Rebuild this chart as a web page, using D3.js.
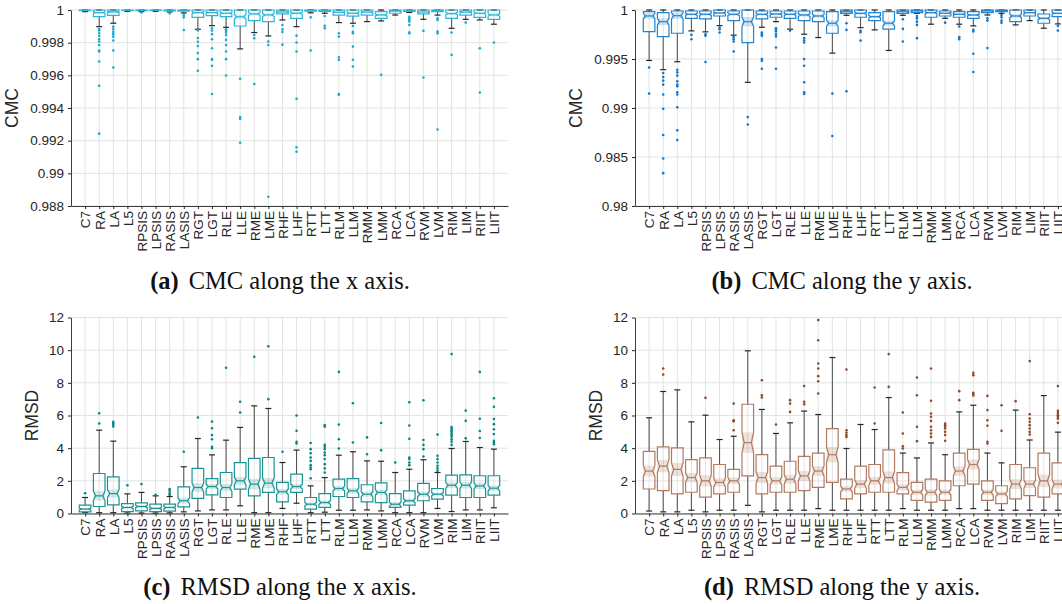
<!DOCTYPE html>
<html>
<head>
<meta charset="utf-8">
<script src="https://cdn.jsdelivr.net/npm/d3@7"></script>
<style>
  body { margin: 0; background: #fff; }
  svg { display: block; }
  .axis text { font-family: "Liberation Sans", Arial, sans-serif; font-size: 13.5px; fill: #262626; }
  .axis path, .axis line { stroke: #262626; }
  .ylabel { font-family: "Liberation Sans", Arial, sans-serif; font-size: 17.5px; fill: #262626; }
  .title { font-family: "Liberation Serif", "Times New Roman", serif; font-size: 24.5px; fill: #111; }
</style>
</head>
<body>
<svg id="chart" width="1062" height="604"></svg>
<script>
// markers, in plotting order
const categories = ['C7', 'RA', 'LA', 'L5', 'RPSIS', 'LPSIS', 'RASIS', 'LASIS', 'RGT', 'LGT',
  'RLE', 'LLE', 'RME', 'LME', 'RHF', 'LHF', 'RTT', 'LTT', 'RLM', 'LLM',
  'RMM', 'LMM', 'RCA', 'LCA', 'RVM', 'LVM', 'RIM', 'LIM', 'RIIT', 'LIIT']

// samples per box, only used for the notch width
const sampleCount = 120

// each row: [lower whisker, q1, median, q3, upper whisker]
const cmcXBoxes = [
  [0.99990, 0.99996, 0.99999, 1, 1], [0.99898, 0.99959, 0.99984, 1, 1], [0.99919, 0.99967, 0.99988, 1, 1],
  [0.99992, 0.99997, 0.99999, 1, 1], [0.99990, 0.99996, 0.99999, 1, 1], [0.99992, 0.99997, 0.99999, 1, 1],
  [0.99988, 0.99995, 0.99998, 1, 1], [0.99982, 0.99993, 0.99998, 1, 1], [0.99882, 0.99955, 0.99984, 1, 1],
  [0.99904, 0.99965, 0.99984, 1, 1], [0.99894, 0.99959, 0.99980, 1, 1], [0.99762, 0.99902, 0.99959, 1, 1],
  [0.99862, 0.99935, 0.99976, 1, 1], [0.99841, 0.99929, 0.99970, 1, 1], [0.99939, 0.99976, 0.99988, 1, 1],
  [0.99898, 0.99949, 0.99980, 1, 1], [0.99983, 0.99993, 0.99998, 1, 1], [0.99980, 0.99992, 0.99998, 1, 1],
  [0.99923, 0.99969, 0.99986, 1, 1], [0.99919, 0.99963, 0.99980, 1, 1], [0.99929, 0.99969, 0.99987, 1, 1],
  [0.99933, 0.99949, 0.99970, 0.99990, 1], [0.99969, 0.99980, 0.99993, 1, 1], [0.99985, 0.99992, 0.99998, 1, 1],
  [0.99943, 0.99976, 0.99988, 1, 1], [0.99969, 0.99990, 0.99997, 1, 1], [0.99888, 0.99949, 0.99978, 1, 1],
  [0.99943, 0.99969, 0.99987, 1, 1], [0.99939, 0.99955, 0.99980, 1, 1], [0.99913, 0.99943, 0.99970, 1, 1],
]
const cmcXOutliers = [
  [], [0.99884, 0.99875, 0.99858, 0.99841, 0.99821, 0.99807, 0.99786, 0.99752, 0.99746, 0.99685, 0.99536, 0.99243],
  [0.99898, 0.99882, 0.99866, 0.99852, 0.99837, 0.99813, 0.99752, 0.99648], [], [0.99985], [], [0.99980],
  [0.99970, 0.99955, 0.99878], [0.99875, 0.99829, 0.99805, 0.99780, 0.99736, 0.99699, 0.99628],
  [0.99888, 0.99874, 0.99852, 0.99821, 0.99766, 0.99699, 0.99695, 0.99658, 0.99486],
  [0.99882, 0.99872, 0.99862, 0.99847, 0.99817, 0.99786, 0.99746, 0.99699, 0.99599],
  [0.99579, 0.99345, 0.99333, 0.99187], [0.99847, 0.99827, 0.99547], [0.99807, 0.99786, 0.98857],
  [0.99908, 0.99882, 0.99866, 0.99788], [0.99843, 0.99801, 0.99746, 0.99457, 0.99160, 0.99132],
  [0.99955, 0.99752], [0.99963, 0.99904, 0.99888], [0.99858, 0.99837, 0.99711, 0.99695, 0.99486, 0.99481],
  [0.99902, 0.99866, 0.99858, 0.99776, 0.99695, 0.99654], [], [0.99603], [],
  [0.99959, 0.99949, 0.99939, 0.99929, 0.99908, 0.99864, 0.99858], [0.99872, 0.99587],
  [0.99949, 0.99939, 0.99868, 0.99858, 0.99268], [0.99862, 0.99725], [0.99923], [0.99766, 0.99495], [0.99801],
]

const cmcYBoxes = [
  [0.99485, 0.99780, 0.99939, 0.99983, 1], [0.99391, 0.99729, 0.99881, 0.99973, 1], [0.99472, 0.99763, 0.99942, 0.99990, 1],
  [0.99787, 0.99915, 0.99956, 0.99990, 1], [0.99777, 0.99909, 0.99956, 0.99990, 1], [0.99841, 0.99939, 0.99970, 1, 1],
  [0.99743, 0.99892, 0.99956, 0.99990, 1], [0.99262, 0.99668, 0.99881, 1, 1], [0.99824, 0.99909, 0.99956, 0.99990, 1],
  [0.99881, 0.99926, 0.99959, 0.99990, 1], [0.99804, 0.99915, 0.99956, 0.99990, 1], [0.99753, 0.99892, 0.99949, 0.99990, 1],
  [0.99719, 0.99881, 0.99939, 0.99990, 1], [0.99560, 0.99763, 0.99865, 0.99983, 1], [0.99946, 0.99966, 0.99983, 1, 1],
  [0.99820, 0.99926, 0.99966, 1, 1], [0.99797, 0.99892, 0.99932, 0.99973, 1], [0.99587, 0.99804, 0.99865, 0.99983, 1],
  [0.99946, 0.99966, 0.99983, 1, 1], [0.99966, 0.99973, 0.99990, 1, 1], [0.99855, 0.99926, 0.99973, 1, 1],
  [0.99915, 0.99939, 0.99966, 0.99990, 1], [0.99855, 0.99926, 0.99956, 0.99983, 1], [0.99838, 0.99915, 0.99949, 0.99983, 1],
  [0.99949, 0.99973, 0.99990, 1, 1], [0.99966, 0.99983, 0.99993, 1, 1], [0.99848, 0.99881, 0.99939, 1, 1],
  [0.99892, 0.99939, 0.99973, 1, 1], [0.99814, 0.99865, 0.99915, 0.99959, 1], [0.99858, 0.99932, 0.99966, 1, 1],
]
const cmcYOutliers = [
  [0.99414, 0.99147], [0.99357, 0.99317, 0.99279, 0.99239, 0.99137, 0.98992, 0.98724, 0.98484, 0.98335],
  [0.99391, 0.99364, 0.99330, 0.99272, 0.99239, 0.99222, 0.99161, 0.99137, 0.99008, 0.98772, 0.98673],
  [0.99746, 0.99702], [0.99753, 0.99736, 0.99469], [0.99820, 0.99804, 0.99770],
  [0.99723, 0.99702, 0.99678, 0.99577], [0.98907, 0.98832], [0.99770, 0.99753, 0.99736, 0.99499, 0.99482, 0.99401],
  [0.99814, 0.99797, 0.99780, 0.99753, 0.99729, 0.99617, 0.99401], [0.99790],
  [0.99713, 0.99688, 0.99668, 0.99499, 0.99431, 0.99262, 0.99161, 0.99144], [], [0.99147, 0.98714],
  [0.99865, 0.99797, 0.99171], [0.99787, 0.99773, 0.99688], [], [], [0.99905, 0.99807, 0.99678],
  [0.99939, 0.99915, 0.99881, 0.99848, 0.99713], [], [0.99871], [0.99831, 0.99723, 0.99702],
  [0.99797, 0.99780, 0.99553, 0.99367], [0.99915, 0.99892, 0.99611], [0.99949, 0.99926, 0.99892, 0.99871],
  [], [], [], [0.99838, 0.99790],
]

const rmsdXBoxes = [
  [0.06, 0.10, 0.27, 0.51, 0.98], [0.05, 0.43, 1.08, 2.45, 5.10], [0.05, 0.53, 1.22, 2.24, 4.43],
  [0.03, 0.12, 0.37, 0.61, 1.20], [0.03, 0.16, 0.43, 0.65, 1.29], [0.03, 0.12, 0.31, 0.57, 1.08],
  [0.04, 0.14, 0.37, 0.57, 1.04], [0.10, 0.41, 0.78, 1.63, 2.86], [0.16, 0.92, 1.59, 2.76, 4.59],
  [0.22, 1.14, 1.65, 2.14, 3.59], [0.22, 0.98, 1.59, 2.51, 4.49], [0.47, 1.49, 2.00, 3.12, 5.27],
  [0.05, 1.08, 1.80, 3.37, 6.59], [0.05, 1.29, 1.86, 3.43, 6.43], [0.31, 0.71, 1.33, 1.90, 3.12],
  [0.63, 1.29, 1.65, 2.41, 3.88], [0.05, 0.27, 0.57, 0.98, 1.69], [0.08, 0.37, 0.67, 1.22, 2.20],
  [0.20, 1.04, 1.53, 2.10, 3.57], [0.20, 0.98, 1.39, 2.14, 3.78], [0.22, 0.71, 1.18, 1.76, 3.22],
  [0.16, 0.67, 1.29, 1.88, 3.20], [0.05, 0.37, 0.57, 1.22, 2.51], [0.05, 0.51, 0.78, 1.39, 2.71],
  [0.05, 0.78, 1.18, 1.84, 3.29], [0.31, 0.88, 1.18, 1.53, 2.51], [0.12, 1.12, 1.73, 2.35, 3.98],
  [0.22, 0.98, 1.73, 2.37, 4.41], [0.22, 0.98, 1.69, 2.31, 4.04], [0.35, 1.12, 1.55, 2.31, 3.94],
]
const rmsdXOutliers = [
  [1.24], [5.51, 6.14], [5.33, 5.43, 5.53, 5.61], [1.73], [1.80], [1.14], [1.14, 1.24, 1.37, 1.49], [3.78],
  [5.88], [4.00, 4.08, 4.55, 4.80, 5.22, 5.63], [8.92], [6.18, 6.84], [9.59], [7.00, 10.24], [3.78],
  [4.29, 4.39, 5.06, 6.00], [2.16, 2.71, 2.82, 2.96, 3.22, 3.43, 3.69, 3.94, 4.32],
  [2.51, 2.76, 3.02, 3.33, 3.57, 3.73, 3.94, 4.08, 4.20, 5.31, 5.41], [3.98, 4.55, 5.45, 8.67],
  [4.35, 6.75], [3.63, 4.66], [3.88, 5.54], [3.12], [2.96, 3.12, 3.33, 3.43, 4.57, 5.39, 6.81],
  [3.49, 3.94, 4.20, 4.50, 6.93], [2.61, 2.76, 2.92, 3.12, 3.33, 3.53, 4.83],
  [4.20, 4.40, 4.55, 4.70, 4.80, 4.90, 5.00, 5.10, 5.20, 5.30, 9.76], [4.60, 5.67, 6.30],
  [4.62, 5.05, 5.80, 8.67], [4.24, 4.35, 4.45, 4.86, 5.16, 5.47, 5.78, 6.53, 7.06],
]

const rmsdYBoxes = [
  [0.15, 1.5, 2.6, 3.8, 5.86], [0.1, 1.4, 2.9, 4.08, 7.47], [0.1, 1.2, 2.7, 4.02, 7.57],
  [0.2, 1.3, 2.2, 3.3, 5.61], [0.1, 1.0, 2.0, 3.4, 6.02], [0.2, 1.2, 1.9, 3.0, 4.53],
  [0.2, 1.3, 2.0, 2.7, 4.73], [0.5, 2.3, 4.34, 6.69, 9.96], [0.1, 1.2, 2.2, 3.6, 6.37],
  [0.2, 1.3, 2.0, 2.9, 4.9], [0.2, 1.3, 2.1, 3.2, 5.55], [0.2, 1.4, 2.3, 3.5, 6.27],
  [0.3, 1.6, 2.6, 3.7, 6.06], [0.2, 1.9, 3.6, 5.2, 9.55], [0.2, 0.9, 1.5, 2.1, 3.98],
  [0.2, 1.2, 1.8, 2.9, 5.45], [0.2, 1.3, 2.0, 3.0, 5.14], [0.2, 1.3, 2.2, 3.9, 7.1],
  [0.3, 1.2, 1.6, 2.5, 3.7], [0.2, 0.8, 1.3, 1.9, 3.4], [0.2, 0.7, 1.3, 2.1, 4.32],
  [0.2, 0.8, 1.3, 2.0, 3.6], [0.3, 1.7, 2.6, 3.7, 6.22], [0.3, 1.8, 3.0, 3.92, 6.63],
  [0.2, 0.8, 1.3, 2.0, 3.7], [0.2, 0.6, 1.2, 1.7, 3.1], [0.2, 0.9, 1.8, 3.0, 6.33],
  [0.2, 1.1, 1.8, 2.8, 4.5], [0.2, 1.0, 2.0, 3.7, 7.22], [0.2, 1.2, 1.8, 3.1, 4.98],
]
const rmsdYOutliers = [
  [], [8.51, 8.88], [], [], [7.08], [], [5.1, 5.65, 5.71, 6.73], [], [7.1, 7.24, 8.16], [5.45],
  [6.22, 6.73, 6.94], [6.69, 6.84, 7.8], [7.35, 8.1, 8.41, 8.88, 9.18, 10.61, 11.84], [],
  [4.69, 4.8, 4.94, 5.1, 8.82], [], [5.51, 7.71], [7.75, 9.76], [3.98, 4.12, 4.9, 6.18],
  [4.43, 5.31, 7.24, 8.33], [4.69, 4.9, 5.1, 5.31, 5.67, 5.92, 6.12, 6.9, 8.88],
  [4.45, 4.8, 5.0, 5.2, 5.31, 5.41, 5.51], [6.94, 7.49], [7.22, 7.31, 7.39, 8.47, 8.61],
  [4.29, 4.39, 5.37, 5.71, 6.33, 7.2], [5.06, 6.63], [6.88], [4.84, 5.0, 5.2, 5.41, 5.61, 5.81, 6.08, 9.33],
  [], [5.55, 5.81, 5.92, 6.02, 6.16, 6.29, 7.8],
]

const cmcXTicks = [0.988, 0.99, 0.992, 0.994, 0.996, 0.998, 1]
const cmcXTickLabels = ['0.988', '0.99', '0.992', '0.994', '0.996', '0.998', '1']
const cmcYTicks = [0.98, 0.985, 0.99, 0.995, 1]
const cmcYTickLabels = ['0.98', '0.985', '0.99', '0.995', '1']
const rmsdTicks = [0, 2, 4, 6, 8, 10, 12]
const rmsdTickLabels = ['0', '2', '4', '6', '8', '10', '12']

const svg = d3.select('#chart')
const plotW = 437
const plotH = 196

/**
 * one notched box plot panel with its grid, axes and caption
 */
function drawPanel (p) {
  const g = svg.append('g').attr('transform', `translate(${p.left},${p.top})`)
  const x = d3.scaleLinear().domain([0, categories.length + 1]).range([0, plotW])
  const y = d3.scaleLinear().domain(d3.extent(p.ticks)).range([plotH, 0])

  // grid
  g.append('g').selectAll('line').data(p.ticks).join('line')
    .attr('x1', 0).attr('x2', plotW)
    .attr('y1', d => y(d)).attr('y2', d => y(d))
    .attr('stroke', '#e3e3e3')
  g.append('g').selectAll('line').data(categories).join('line')
    .attr('x1', (d, i) => x(i + 1)).attr('x2', (d, i) => x(i + 1))
    .attr('y1', 0).attr('y2', plotH)
    .attr('stroke', '#e3e3e3')

  // axes
  g.append('g').attr('class', 'axis')
    .call(d3.axisLeft(y).tickValues(p.ticks).tickFormat((d, i) => p.tickLabels[i])
      .tickSize(3).tickSizeOuter(0).tickPadding(4))
  const xAxis = g.append('g').attr('class', 'axis')
    .attr('transform', `translate(0,${plotH})`)
    .call(d3.axisBottom(x).tickValues(d3.range(1, categories.length + 1))
      .tickFormat(i => categories[i - 1]).tickSize(3).tickSizeOuter(0))
  xAxis.selectAll('text')
    .attr('transform', 'rotate(-90)')
    .attr('x', -5).attr('y', 0).attr('dy', '0.36em')
    .style('text-anchor', 'end')
  g.selectAll('.axis .domain').attr('stroke-width', 0.9)

  g.append('text').attr('class', 'ylabel')
    .attr('transform', `translate(${p.labelX},${plotH / 2}) rotate(-90)`)
    .attr('text-anchor', 'middle')
    .text(p.label)

  const halfW = 5.8
  const pinch = 3.6
  const boxes = g.append('g').selectAll('g').data(p.boxes).join('g')
    .attr('transform', (d, i) => `translate(${x(i + 1)},0)`)

  // whiskers
  boxes.append('line')
    .attr('y1', d => y(d[3])).attr('y2', d => y(d[4]))
    .attr('stroke', '#4a4a4a').attr('stroke-width', 1)
  boxes.append('line')
    .attr('y1', d => y(d[1])).attr('y2', d => y(d[0]))
    .attr('stroke', '#4a4a4a').attr('stroke-width', 1)
  boxes.selectAll('.cap').data(d => [d[0], d[4]]).join('line')
    .attr('class', 'cap')
    .attr('x1', -3).attr('x2', 3)
    .attr('y1', v => y(v)).attr('y2', v => y(v))
    .attr('stroke', '#262626').attr('stroke-width', 1.2)

  const notch = d => {
    const half = 1.57 * (d[3] - d[1]) / Math.sqrt(sampleCount)
    return [Math.max(d[1], d[2] - half), Math.min(d[3], d[2] + half)]
  }

  // shaded notch band
  boxes.append('rect')
    .attr('x', -halfW)
    .attr('width', halfW * 2)
    .attr('y', d => y(notch(d)[1]))
    .attr('height', d => y(notch(d)[0]) - y(notch(d)[1]))
    .attr('fill', p.fill)

  // notched outline
  boxes.append('path')
    .attr('d', d => {
      const [lo, hi] = notch(d)
      const pts = [
        [-halfW, y(d[3])], [halfW, y(d[3])], [halfW, y(hi)], [pinch, y(d[2])],
        [halfW, y(lo)], [halfW, y(d[1])], [-halfW, y(d[1])], [-halfW, y(lo)],
        [-pinch, y(d[2])], [-halfW, y(hi)],
      ]
      return d3.line()(pts) + 'Z'
    })
    .attr('fill', 'none')
    .attr('stroke', p.stroke).attr('stroke-width', 1.2)
  boxes.append('line')
    .attr('x1', -pinch).attr('x2', pinch)
    .attr('y1', d => y(d[2])).attr('y2', d => y(d[2]))
    .attr('stroke', p.stroke).attr('stroke-width', 1.2)

  // outliers
  g.append('g').selectAll('g').data(p.outliers).join('g')
    .attr('transform', (d, i) => `translate(${x(i + 1)},0)`)
    .selectAll('circle').data(d => d).join('circle')
    .attr('cy', v => y(v)).attr('r', 1.3)
    .attr('fill', p.dot)

  const title = svg.append('text').attr('class', 'title')
    .attr('x', p.titleX).attr('y', p.titleY)
    .attr('text-anchor', 'middle')
  title.append('tspan').attr('font-weight', 'bold').text(p.tag)
  title.append('tspan').attr('dx', 10).text(p.caption)
}

drawPanel({
  left: 71, top: 10, boxes: cmcXBoxes, outliers: cmcXOutliers,
  ticks: cmcXTicks, tickLabels: cmcXTickLabels, label: 'CMC', labelX: -53,
  stroke: '#2bb6d9', fill: 'rgba(43,182,217,0.22)', dot: '#1aa9d2',
  tag: '(a)', caption: 'CMC along the x axis.', titleX: 280, titleY: 289,
})
drawPanel({
  left: 635, top: 10, boxes: cmcYBoxes, outliers: cmcYOutliers,
  ticks: cmcYTicks, tickLabels: cmcYTickLabels, label: 'CMC', labelX: -53,
  stroke: '#1f84d2', fill: 'rgba(31,132,210,0.22)', dot: '#1677c8',
  tag: '(b)', caption: 'CMC along the y axis.', titleX: 842, titleY: 289,
})
drawPanel({
  left: 71, top: 317.5, boxes: rmsdXBoxes, outliers: rmsdXOutliers,
  ticks: rmsdTicks, tickLabels: rmsdTickLabels, label: 'RMSD', labelX: -33,
  stroke: '#1b9494', fill: 'rgba(27,148,148,0.2)', dot: '#0b8585',
  tag: '(c)', caption: 'RMSD along the x axis.', titleX: 280, titleY: 595,
})
drawPanel({
  left: 635, top: 317.5, boxes: rmsdYBoxes, outliers: rmsdYOutliers,
  ticks: rmsdTicks, tickLabels: rmsdTickLabels, label: 'RMSD', labelX: -33,
  stroke: '#b27a60', fill: 'rgba(178,122,96,0.22)', dot: '#93492a',
  tag: '(d)', caption: 'RMSD along the y axis.', titleX: 842, titleY: 595,
})
</script>
</body>
</html>
